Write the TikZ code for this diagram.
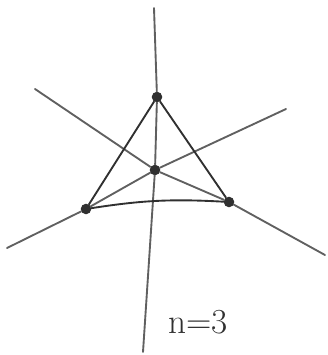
\documentclass[tikz,border=0pt]{standalone}
\usepackage{xcolor}
\usepackage{tikz}
\definecolor{SKGrey}{HTML}{606060}
\definecolor{SKDark}{HTML}{303030}
\tikzset{
  skline/.style={SKGrey,line width=1.6pt,line cap=round},
  skdot/.style={circle,fill=SKDark,inner sep=0pt,minimum size=9pt}
}

\begin{document}
\begin{tikzpicture}[x=0.03cm,y=-0.03cm]
\path[use as bounding box] (0,0) rectangle (327,355);
% points of the triangle
\node[skdot] (top) at (157,97) {};
\node[skdot] (mid) at (155,170) {};
\node[skdot] (lft) at (86,209) {};
\node[skdot] (rgt) at (229,202) {};
% free ends of the three lines
\coordinate (vtop) at (154,8);
\coordinate (vbot) at (143,352);
\coordinate (atop) at (35,89);
\coordinate (abot) at (325,255);
\coordinate (bbot) at (7,248);
\coordinate (btop) at (286,109);
% three lines through the centre
\draw[skline] (vtop) -- (top) -- (mid) -- (vbot);
\draw[skline] (atop) -- (mid) -- (rgt) -- (abot);
\draw[skline] (bbot) -- (lft) -- (mid) -- (btop);
% triangle
\draw[skline,SKDark] (top) -- (lft);
\draw[skline,SKDark] (top) -- (rgt);
\draw[skline,SKDark] (lft) to[bend left=6] (rgt);
\node[SKDark,font=\fontsize{30}{34}\selectfont] (lbl) at (198,322) {n=3};
\end{tikzpicture}
\end{document}
